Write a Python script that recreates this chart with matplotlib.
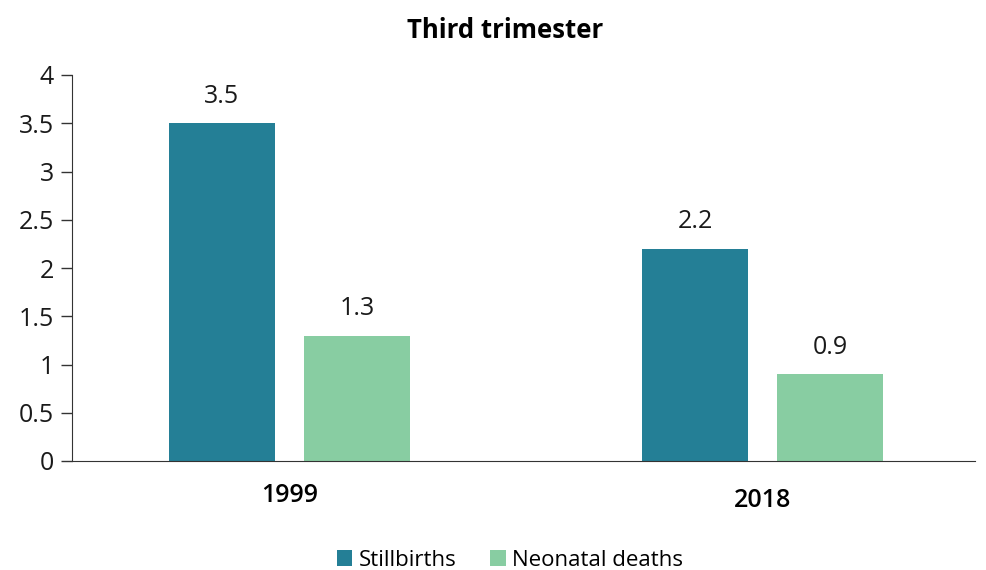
import matplotlib.pyplot as plt
import numpy as np

plt.rcParams['font.family'] = ['Open Sans', 'DejaVu Sans']

years = ['1999', '2018']
stillbirths = [3.5, 2.2]
neonatal = [1.3, 0.9]
yticks = [0, 0.5, 1, 1.5, 2, 2.5, 3, 3.5, 4]
ytick_labels = ['0', '0.5', '1', '1.5', '2', '2.5', '3', '3.5', '4']

c_still = '#247F96'
c_neo = '#88CDA2'

fig = plt.figure(figsize=(9.87, 5.70), dpi=100)
ax = fig.add_axes([72 / 987, 1 - 461 / 570, (975 - 72) / 987, (461 - 75) / 570])

x = np.arange(len(years))
w = 0.224
off = 0.1426
b1 = ax.bar(x - off, stillbirths, w, color=c_still, label='Stillbirths')
b2 = ax.bar(x + off, neonatal, w, color=c_neo, label='Neonatal deaths')

for bars, vals in ((b1, stillbirths), (b2, neonatal)):
    for b, v in zip(bars, vals):
        ax.text(b.get_x() + b.get_width() / 2, v + 0.15, '{0}'.format(v),
                ha='center', va='bottom', fontsize=18, color='#1a1a1a')

ax.set_xlim(-0.459, 1.448)
ax.set_ylim(0, 4)
ax.set_yticks(yticks)
ax.set_yticklabels(ytick_labels, fontsize=18, color='#1a1a1a')
ax.tick_params(axis='y', length=8, width=1, color='#333333', pad=5)
ax.set_xticks([])

# year labels sit slightly staggered in the source
ax.text(0, -0.36, years[0], ha='center', va='center', fontsize=18,
        fontweight='semibold', clip_on=False)
ax.text(1, -0.41, years[1], ha='center', va='center', fontsize=18,
        fontweight='semibold', clip_on=False)

for s in ['top', 'right']:
    ax.spines[s].set_visible(False)
ax.spines['left'].set_color('#333333')
ax.spines['bottom'].set_color('#333333')

fig.text(505 / 987, 1 - 30 / 570, 'Third trimester', ha='center', va='center',
         fontsize=18.5, fontweight='bold')

fig.legend(handles=[b1, b2], loc='center', bbox_to_anchor=(510 / 987, 1 - 560 / 570),
           ncol=2, frameon=False, fontsize=16, handlelength=0.7, handleheight=0.7,
           handletextpad=0.3, columnspacing=1.5)

fig.savefig('out.png', dpi=100)
